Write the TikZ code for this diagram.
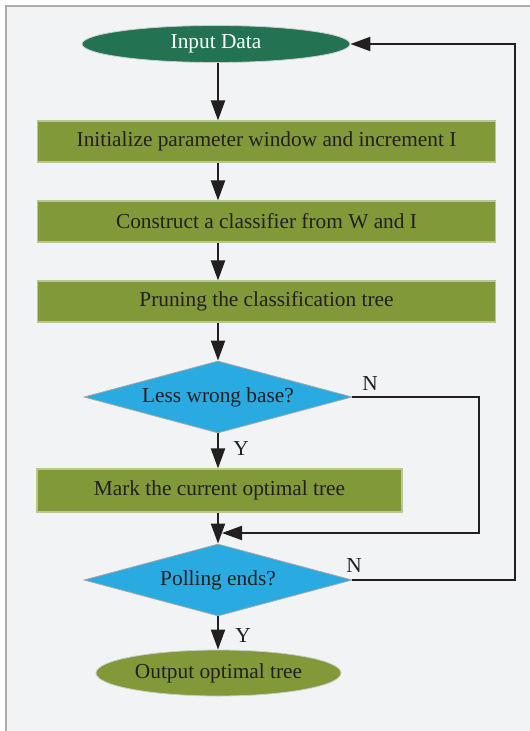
\documentclass[tikz,border=0pt]{standalone}
\usepackage{fontspec}
\setmainfont{Liberation Serif}
\usetikzlibrary{positioning, arrows.meta, shapes.geometric}
\definecolor{PanelColor}{RGB}{242,243,245}
\definecolor{StartColor}{RGB}{35,115,82}
\definecolor{StepColor}{RGB}{130,153,58}
\definecolor{TestColor}{RGB}{41,171,226}
\definecolor{InkColor}{RGB}{35,31,32}

\begin{document}
\begin{tikzpicture}[x=0.75pt, y=-0.75pt, >={Triangle[length=15pt, width=10.5pt]},
    line width=1.5pt, draw=InkColor,
    flowfont/.style={font=\fontsize{16}{19}\selectfont},
    stepbox/.style={rectangle, flowfont, fill=StepColor, draw=StepColor!55!white, line width=0.8pt,
        text=InkColor, minimum width=344pt, minimum height=30.75pt, inner sep=0pt},
    testnode/.style={diamond, aspect=3.7, flowfont, fill=TestColor, draw=gray!70, line width=0.6pt,
        text=InkColor, minimum width=201pt, minimum height=54pt, inner sep=0pt},
    endnode/.style={ellipse, flowfont, draw=gray!40, line width=0.6pt, inner sep=0pt},
    yesno/.style={flowfont, text=InkColor, inner sep=0pt}]
    \def\spine{218}
    % Panel
    \useasboundingbox (0,0) rectangle (529,731);
    \fill[white] (0,0) rectangle (529,731);
    \filldraw[fill=PanelColor, draw=gray!65, line width=0.8pt] (6,6) rectangle (531,733);
    % Steps
    \node[endnode, fill=StartColor, text=white, minimum width=201pt, minimum height=27.75pt] (input) at (216,44) {Input Data};
    \node[stepbox] (init) at (266.5,141.5) {Initialize parameter window and increment I};
    \node[stepbox] (build) at (266.5,221.5) {Construct a classifier from W and I};
    \node[stepbox] (prune) at (266.5,301.5) {Pruning the classification tree};
    \node[testnode] (lessq) at (\spine,397) {Less wrong base?};
    \node[stepbox, minimum width=273.75pt, minimum height=32.25pt] (mark) at (219.5,490.5) {Mark the current optimal tree};
    \node[testnode] (pollq) at (\spine,580) {Polling ends?};
    \node[endnode, fill=StepColor, text=InkColor, minimum width=183.75pt, minimum height=34.5pt] (output) at (218.5,673) {Output optimal tree};
    % Answers
    \node[yesno] (yes1) at (241,449) {Y};
    \node[yesno] (no1) at (370,384) {N};
    \node[yesno] (yes2) at (243,636) {Y};
    \node[yesno] (no2) at (354,566) {N};
    \coordinate (join) at (222,533);
    % Connectors
    \draw[->] (input.south -| lessq) -- (init.north -| lessq);
    \draw[->] (init.south -| lessq) -- (build.north -| lessq);
    \draw[->] (build.south -| lessq) -- (prune.north -| lessq);
    \draw[->] (prune.south -| lessq) -- (lessq.north);
    \draw[->] (lessq.south) -- (mark.north -| lessq);
    \draw[->] (mark.south -| pollq) -- (pollq.north);
    \draw[->] (lessq.east) -- ++(127,0) |- (join);
    \draw[->] (pollq.south) -- (output.north -| pollq);
    \draw[->] (pollq.east) -- ++(163,0) |- (input.east);
\end{tikzpicture}
\end{document}
